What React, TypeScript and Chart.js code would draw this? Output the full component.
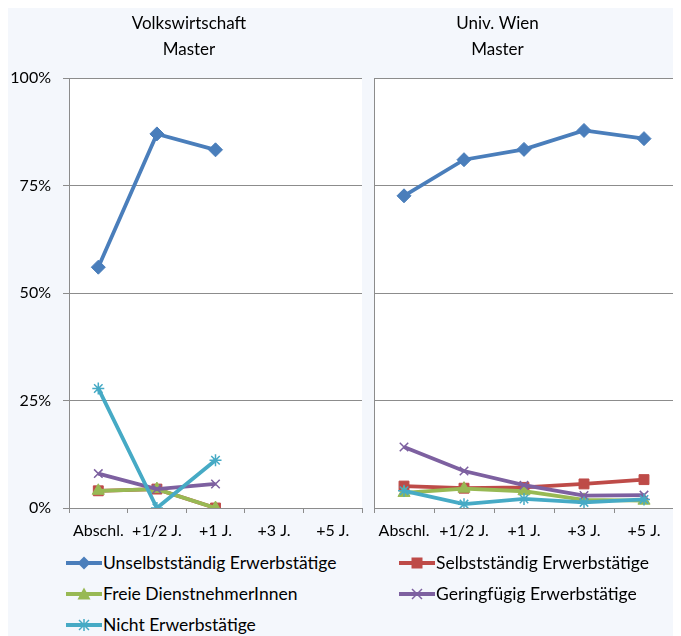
import React, { useEffect, useRef } from "react";
import { Chart, registerables } from "chart.js";

Chart.register(...registerables);

const categories = ["Abschl.", "+1/2 J.", "+1 J.", "+3 J.", "+5 J."];
const yTicks = [0, 25, 50, 75, 100];

const seriesNames = [
  "Unselbstständig Erwerbstätige",
  "Selbstständig Erwerbstätige",
  "Freie DienstnehmerInnen",
  "Geringfügig Erwerbstätige",
  "Nicht Erwerbstätige",
];
const seriesColors = ["#4A7EBB", "#BE4B48", "#98B954", "#7D60A0", "#46AAC5"];
const seriesMarkers = ["rectRot", "rect", "triangle", "crossRot", "star"];

// Volkswirtschaft Master
const vwUnselbst = [56.0, 87.0, 83.3, null, null];
const vwSelbst = [4.0, 4.4, 0.0, null, null];
const vwFreie = [4.0, 4.4, 0.0, null, null];
const vwGering = [8.0, 4.4, 5.6, null, null];
const vwNicht = [27.8, 0.0, 11.1, null, null];

// Univ. Wien Master
const uwUnselbst = [72.6, 81.0, 83.4, 87.8, 85.9];
const uwSelbst = [5.1, 4.6, 4.8, 5.6, 6.6];
const uwFreie = [3.5, 4.5, 3.9, 1.9, 1.7];
const uwGering = [14.2, 8.6, 5.3, 2.9, 3.0];
const uwNicht = [4.0, 0.9, 2.1, 1.3, 2.0];

const FONT = "Lato, 'Open Sans', sans-serif";
const GRID = "#8C8C8C";

const plotBg = {
  id: "plotBg",
  beforeDraw(chart: any) {
    const { ctx, chartArea } = chart;
    ctx.save();
    ctx.fillStyle = "#FFFFFF";
    ctx.fillRect(chartArea.left, chartArea.top, chartArea.right - chartArea.left, chartArea.bottom - chartArea.top);
    ctx.restore();
  },
};

function makeConfig(title: string[], data: (number | null)[][], showY: boolean): any {
  const markerRadius = [7, 7, 7, 6, 6];
  return {
    type: "line",
    data: {
      labels: categories,
      datasets: data.map((d, i) => ({
        label: seriesNames[i],
        data: d,
        borderColor: seriesColors[i],
        backgroundColor: seriesColors[i],
        pointBackgroundColor: seriesColors[i],
        pointBorderColor: seriesColors[i],
        pointStyle: seriesMarkers[i],
        pointRadius: markerRadius[i],
        pointBorderWidth: i >= 3 ? 1.5 : 1,
        borderWidth: 3.8,
        tension: 0,
        spanGaps: false,
        order: 5 - i,
      })),
    },
    options: {
      responsive: false,
      animation: false,
      devicePixelRatio: 1,
      layout: { padding: { left: 0, right: 0, top: 0, bottom: 0 } },
      plugins: {
        legend: { display: false },
        tooltip: { enabled: false },
        title: {
          display: true,
          text: title,
          color: "#000000",
          font: { family: FONT, size: 17, lineHeight: 1.5, weight: "normal" },
          padding: { top: 3, bottom: 16 },
        },
      },
      scales: {
        x: {
          offset: true,
          grid: {
            offset: true,
            drawOnChartArea: false,
            drawTicks: true,
            tickLength: 5,
            color: GRID,
          },
          border: { display: false },
          ticks: {
            color: "#000000",
            font: { family: FONT, size: 16 },
            padding: 8,
            maxRotation: 0,
            autoSkip: false,
          },
          afterFit(scale: any) {
            scale.height = 37;
          },
        },
        y: {
          min: 0,
          max: 100,
          afterBuildTicks(scale: any) {
            scale.ticks = yTicks.map((v) => ({ value: v }));
          },
          grid: {
            color: GRID,
            drawTicks: showY,
            tickLength: 6,
            lineWidth: 1,
          },
          border: { display: true, color: GRID, width: 1 },
          ticks: {
            display: showY,
            color: "#000000",
            font: { family: FONT, size: 16 },
            padding: 12,
            callback: (v: any) => `${v}%`,
          },
          afterFit(scale: any) {
            scale.width = 61;
          },
        },
      },
    },
    plugins: [plotBg],
  };
}

function LineChart({ title, data, showY, left, width }: any) {
  const ref = useRef<HTMLCanvasElement | null>(null);
  useEffect(() => {
    if (!ref.current) return;
    const chart = new Chart(ref.current, makeConfig(title, data, showY));
    return () => chart.destroy();
  }, []);
  return (
    <canvas
      ref={ref}
      width={width}
      height={537}
      style={{ position: "absolute", left, top: 0, width, height: 537 }}
    />
  );
}

function LegendIcon({ i }: { i: number }) {
  const c = seriesColors[i];
  const cx = 18;
  const cy = 10;
  let marker: any = null;
  if (i === 0) marker = <polygon points={`${cx},${cy - 6.5} ${cx + 6.5},${cy} ${cx},${cy + 6.5} ${cx - 6.5},${cy}`} fill={c} />;
  if (i === 1) marker = <rect x={cx - 5.5} y={cy - 5.5} width={11} height={11} fill={c} />;
  if (i === 2) marker = <polygon points={`${cx},${cy - 6.5} ${cx + 6.5},${cy + 5.5} ${cx - 6.5},${cy + 5.5}`} fill={c} />;
  if (i === 3)
    marker = (
      <g stroke={c} strokeWidth={1.5}>
        <line x1={cx - 5} y1={cy - 5} x2={cx + 5} y2={cy + 5} />
        <line x1={cx - 5} y1={cy + 5} x2={cx + 5} y2={cy - 5} />
      </g>
    );
  if (i === 4)
    marker = (
      <g stroke={c} strokeWidth={1.5}>
        <line x1={cx - 5} y1={cy - 5} x2={cx + 5} y2={cy + 5} />
        <line x1={cx - 5} y1={cy + 5} x2={cx + 5} y2={cy - 5} />
        <line x1={cx} y1={cy - 6} x2={cx} y2={cy + 6} />
      </g>
    );
  return (
    <svg width={36} height={20} style={{ position: "absolute", left: 0, top: 0 }}>
      <line x1={0} y1={cy} x2={36} y2={cy} stroke={c} strokeWidth={3.8} />
      {marker}
    </svg>
  );
}

export default function App() {
  const legendPos = [
    { left: 58, top: 545 },
    { left: 391, top: 545 },
    { left: 58, top: 576 },
    { left: 391, top: 576 },
    { left: 58, top: 607 },
  ];
  return (
    <div
      style={{
        position: "relative",
        width: 673,
        height: 628,
        background: "#F4F7FC",
        overflow: "hidden",
        fontFamily: FONT,
      }}
    >
      <LineChart
        title={["Volkswirtschaft", "Master"]}
        data={[vwUnselbst, vwSelbst, vwFreie, vwGering, vwNicht]}
        showY={true}
        left={0}
        width={362}
      />
      <LineChart
        title={["Univ. Wien", "Master"]}
        data={[uwUnselbst, uwSelbst, uwFreie, uwGering, uwNicht]}
        showY={false}
        left={305}
        width={369}
      />
      {seriesNames.map((name, i) => (
        <div key={name} style={{ position: "absolute", left: legendPos[i].left, top: legendPos[i].top, height: 20 }}>
          <LegendIcon i={i} />
          <span
            style={{
              position: "absolute",
              left: 37,
              top: 0,
              lineHeight: "20px",
              fontSize: 17.5,
              whiteSpace: "nowrap",
              color: "#000000",
            }}
          >
            {name}
          </span>
        </div>
      ))}
    </div>
  );
}
